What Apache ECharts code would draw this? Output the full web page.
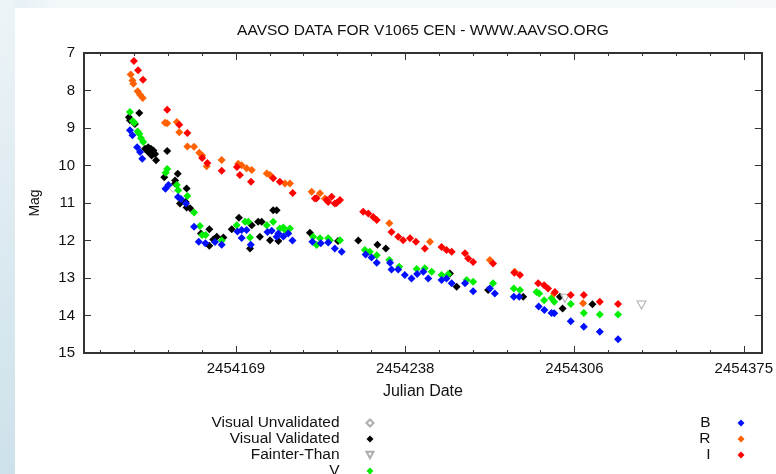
<!DOCTYPE html>
<html>
<head>
<meta charset="utf-8">
<script src="https://cdn.jsdelivr.net/npm/echarts@6/dist/echarts.min.js"></script>
<style>
html,body{margin:0;padding:0;width:776px;height:474px;overflow:hidden;background:#fff;}
#bgtop{position:absolute;left:0;top:0;width:776px;height:8px;background:linear-gradient(to right,#e2eef4,#f3f8fa 60px,#f5f9fb);}
#bgleft{position:absolute;left:0;top:0;width:15px;height:474px;background:linear-gradient(to bottom,#edf4f7,#d9e8ef 60%,#cde1ea);}
#chart{position:absolute;left:0;top:0;width:776px;height:474px;}
</style>
</head>
<body>
<div id="bgtop"></div>
<div id="bgleft"></div>
<div id="chart"></div>
<script>
// ---- axis ranges and tick labels ----
const xMin = 2454107.86;
const xMax = 2454382.8;
const xMajorTicks = [2454169.5, 2454238.17, 2454306.83, 2454375.5];
const xTickLabels = ['2454169', '2454238', '2454306', '2454375'];
const yMin = 7, yMax = 15;

// ---- observations [Julian Date, magnitude] ----
const visualUnvalidated = [
  [2454144.1, 10.61]
];
const visualValidated = [
  [2454130.3, 8.60], [2454126.1, 8.71], [2454126.5, 8.79], [2454128.5, 8.89],
  [2454132.6, 9.55], [2454133.9, 9.51], [2454135.0, 9.55], [2454136.0, 9.60],
  [2454136.7, 9.69], [2454135.3, 9.73], [2454137.1, 9.86], [2454133.9, 9.64],
  [2454141.6, 9.61], [2454145.9, 10.22], [2454140.4, 10.31], [2454144.8, 10.40],
  [2454144.8, 10.48], [2454149.5, 10.61], [2454146.8, 11.01], [2454149.1, 10.97],
  [2454149.5, 11.12], [2454150.9, 11.14], [2454155.3, 11.81], [2454158.7, 11.70],
  [2454160.3, 11.97], [2454161.7, 11.90], [2454164.4, 11.92], [2454158.7, 12.14],
  [2454167.8, 11.70], [2454170.7, 11.39], [2454175.9, 11.59], [2454178.5, 11.50],
  [2454179.9, 11.50], [2454179.2, 11.90], [2454183.3, 11.99], [2454184.6, 11.19],
  [2454186.0, 11.19], [2454186.7, 12.01], [2454175.2, 12.21], [2454199.5, 11.79],
  [2454210.9, 12.01], [2454219.1, 12.00], [2454226.9, 12.11], [2454230.3, 12.21],
  [2454256.3, 12.88], [2454259.0, 13.23], [2454271.8, 13.32], [2454286.0, 13.50],
  [2454300.9, 13.50], [2454302.0, 13.81], [2454314.1, 13.70]
];
const fainterThan = [
  [2454302.9, 13.54], [2454334.0, 13.72]
];
const bandV = [
  [2454126.5, 8.57], [2454127.6, 8.81], [2454128.3, 8.86], [2454129.6, 9.09],
  [2454130.3, 9.15], [2454131.0, 9.27], [2454131.9, 9.37], [2454141.0, 10.19],
  [2454141.6, 10.09], [2454145.5, 10.52], [2454146.1, 10.66], [2454149.8, 10.81],
  [2454152.5, 11.25], [2454154.9, 11.61], [2454155.8, 11.85], [2454157.2, 11.85],
  [2454163.7, 12.00], [2454169.8, 11.59], [2454173.2, 11.50], [2454174.5, 11.50],
  [2454175.2, 11.92], [2454182.0, 11.59], [2454184.6, 11.50], [2454187.3, 11.68],
  [2454188.7, 11.65], [2454189.4, 11.72], [2454191.4, 11.68], [2454200.8, 11.90],
  [2454202.2, 12.12], [2454203.6, 11.94], [2454206.9, 11.94], [2454207.6, 11.99],
  [2454211.7, 11.99], [2454221.8, 12.25], [2454223.8, 12.30], [2454226.6, 12.39],
  [2454231.7, 12.52], [2454235.7, 12.70], [2454242.8, 12.76], [2454246.1, 12.74],
  [2454248.9, 12.83], [2454252.9, 12.92], [2454255.6, 12.90], [2454263.1, 13.05],
  [2454265.7, 13.10], [2454273.8, 13.14], [2454282.2, 13.28], [2454284.7, 13.32],
  [2454291.4, 13.37], [2454292.5, 13.41], [2454294.5, 13.59], [2454297.5, 13.54],
  [2454298.6, 13.63], [2454305.3, 13.69], [2454310.6, 13.93], [2454317.1, 13.97],
  [2454324.5, 13.97]
];
const bandB = [
  [2454126.5, 9.06], [2454127.5, 9.19], [2454129.4, 9.51], [2454130.6, 9.64],
  [2454131.5, 9.82], [2454140.9, 10.62], [2454142.1, 10.52], [2454146.0, 10.84],
  [2454147.2, 10.89], [2454149.2, 11.01], [2454152.5, 11.63], [2454154.4, 12.03],
  [2454157.1, 12.07], [2454161.0, 12.04], [2454163.7, 12.11], [2454170.1, 11.76],
  [2454171.8, 11.93], [2454171.8, 11.72], [2454173.8, 11.72], [2454175.5, 12.11],
  [2454182.3, 11.77], [2454184.0, 11.74], [2454186.0, 11.90], [2454186.7, 11.81],
  [2454188.7, 11.89], [2454190.7, 11.81], [2454192.4, 12.00], [2454200.5, 12.03],
  [2454203.9, 12.07], [2454206.9, 12.05], [2454209.6, 12.21], [2454212.4, 12.30],
  [2454222.1, 12.37], [2454224.5, 12.45], [2454226.6, 12.59], [2454232.0, 12.59],
  [2454232.6, 12.77], [2454235.3, 12.77], [2454238.0, 12.92], [2454240.7, 13.01],
  [2454243.0, 12.89], [2454245.5, 12.83], [2454247.5, 13.01], [2454252.9, 13.05],
  [2454254.9, 13.01], [2454257.0, 13.14], [2454262.4, 13.14], [2454265.7, 13.35],
  [2454272.5, 13.28], [2454274.5, 13.41], [2454282.2, 13.50], [2454284.4, 13.50],
  [2454292.3, 13.76], [2454294.6, 13.85], [2454297.5, 13.93], [2454298.6, 13.94],
  [2454305.3, 14.15], [2454310.6, 14.30], [2454317.1, 14.43], [2454324.5, 14.63]
];
const bandR = [
  [2454126.8, 7.57], [2454127.5, 7.73], [2454127.9, 7.82], [2454129.6, 8.02],
  [2454130.6, 8.11], [2454131.7, 8.20], [2454140.7, 8.86], [2454141.6, 8.87],
  [2454145.5, 8.84], [2454146.5, 9.11], [2454149.8, 9.49], [2454152.5, 9.50],
  [2454154.6, 9.66], [2454155.8, 9.73], [2454157.6, 10.02], [2454163.7, 9.85],
  [2454170.4, 9.95], [2454171.8, 9.99], [2454173.8, 10.07], [2454175.9, 10.12],
  [2454182.0, 10.21], [2454183.3, 10.25], [2454189.4, 10.48], [2454191.4, 10.48],
  [2454200.2, 10.70], [2454203.6, 10.74], [2454205.6, 10.88], [2454231.7, 11.54],
  [2454248.2, 12.03], [2454272.5, 12.52], [2454282.6, 12.83], [2454298.5, 13.41],
  [2454310.3, 13.67]
];
const bandI = [
  [2454128.1, 7.21], [2454129.8, 7.46], [2454131.8, 7.71], [2454141.6, 8.51],
  [2454146.5, 8.91], [2454149.8, 9.13], [2454155.8, 9.80], [2454157.9, 9.93],
  [2454163.7, 10.14], [2454169.9, 10.04], [2454171.1, 10.25], [2454175.6, 10.43],
  [2454184.6, 10.34], [2454187.3, 10.43], [2454192.5, 10.73], [2454201.5, 10.88],
  [2454202.2, 10.87], [2454206.3, 10.92], [2454206.9, 10.97], [2454208.3, 10.83],
  [2454209.6, 11.01], [2454210.3, 11.00], [2454211.7, 10.92], [2454221.1, 11.23],
  [2454223.2, 11.28], [2454225.2, 11.37], [2454226.6, 11.45], [2454232.6, 11.77],
  [2454235.3, 11.90], [2454237.3, 11.99], [2454240.1, 11.94], [2454242.5, 12.03],
  [2454246.1, 12.21], [2454252.9, 12.17], [2454254.9, 12.25], [2454257.0, 12.30],
  [2454262.4, 12.34], [2454263.7, 12.48], [2454265.7, 12.57], [2454273.8, 12.61],
  [2454282.4, 12.86], [2454284.7, 12.92], [2454292.1, 13.14], [2454294.5, 13.19],
  [2454296.1, 13.28], [2454298.9, 13.37], [2454305.3, 13.45], [2454310.6, 13.45],
  [2454317.1, 13.63], [2454324.5, 13.69]
];

// ---- minor tick positions: 5 subdivisions of each major interval ----
const minorStep = (xMajorTicks[1] - xMajorTicks[0]) / 5;
const xMinorTicks = [];
for (let v = xMajorTicks[0] - minorStep * 5; v <= xMax; v += minorStep) {
  if (v >= xMin) xMinorTicks.push(v);
}

const FONT = '"Liberation Sans", Arial, Helvetica, sans-serif';
const AXIS_COLOR = '#333';
const TXT = '#111';
const TRI = 'path://M0,0 L10,0 L5,9 Z';

function fmtX(value) {
  const i = xMajorTicks.findIndex(v => Math.abs(v - value) < 0.05);
  return i >= 0 ? xTickLabels[i] : '';
}

function xAx(pos, major, showLabel) {
  return {
    type: 'value', position: pos, min: xMin, max: xMax,
    name: showLabel ? 'Julian Date' : '',
    nameLocation: 'middle', nameGap: 31,
    nameTextStyle: { fontFamily: FONT, fontSize: 16, color: TXT },
    axisLine: { show: true, onZero: false, lineStyle: { color: AXIS_COLOR, width: 2 } },
    axisTick: {
      show: true, inside: true, length: major ? 7 : 3,
      customValues: major ? xMajorTicks : xMinorTicks,
      lineStyle: { color: AXIS_COLOR, width: 1 }
    },
    axisLabel: {
      show: showLabel, customValues: xMajorTicks, formatter: fmtX,
      margin: 8, fontFamily: FONT, fontSize: 15, color: TXT
    },
    splitLine: { show: false }
  };
}

function yAx(pos, showLabel) {
  return {
    type: 'value', position: pos, min: yMin, max: yMax, interval: 1, inverse: true,
    name: showLabel ? 'Mag' : '',
    nameLocation: 'middle', nameGap: 42, nameRotate: 90,
    nameTextStyle: { fontFamily: FONT, fontSize: 14, color: TXT },
    axisLine: { show: true, lineStyle: { color: AXIS_COLOR, width: 2 } },
    axisTick: { show: true, inside: true, length: 7, lineStyle: { color: AXIS_COLOR, width: 1 } },
    axisLabel: { show: showLabel, margin: 9, fontFamily: FONT, fontSize: 15, color: TXT },
    splitLine: { show: false }
  };
}

function scatter(name, data, color, opts) {
  return Object.assign({
    name: name, type: 'scatter', data: data,
    xAxisIndex: 0, yAxisIndex: 0,
    symbol: 'diamond', symbolSize: [8, 8],
    itemStyle: { color: color, opacity: 1 },
    emphasis: { disabled: true }
  }, opts || {});
}

const legendText = {
  fontFamily: FONT, fontSize: 15.5, color: TXT, lineHeight: 15,
  padding: [0, 22, 0, 0]
};

const chart = echarts.init(document.getElementById('chart'), null, { renderer: 'canvas' });
chart.setOption({
  animation: false,
  backgroundColor: 'transparent',
  title: {
    text: 'AAVSO DATA FOR V1065 CEN - WWW.AAVSO.ORG',
    left: 423, top: 23, textAlign: 'center', padding: 0,
    textStyle: { fontFamily: FONT, fontSize: 15.5, fontWeight: 'normal', color: TXT }
  },
  grid: { left: 84, right: 14, top: 53, bottom: 121, containLabel: false },
  xAxis: [xAx('bottom', true, true), xAx('bottom', false, false), xAx('top', true, false), xAx('top', false, false)],
  yAxis: [yAx('left', true), yAx('right', false)],
  legend: [
    {
      data: [
        { name: 'Visual Unvalidated' },
        { name: 'Visual Validated' },
        { name: 'Fainter-Than' },
        { name: 'V' }
      ],
      orient: 'vertical', align: 'right', right: 401.5, top: 415, height: 90, padding: 0,
      itemWidth: 7, itemHeight: 7, itemGap: 0,
      selectedMode: false, textStyle: legendText
    },
    {
      data: [{ name: 'B' }, { name: 'R' }, { name: 'I' }],
      orient: 'vertical', align: 'right', right: 31.5, top: 415, height: 90, padding: 0,
      itemWidth: 7, itemHeight: 7, itemGap: 0,
      selectedMode: false, textStyle: legendText
    }
  ],
  series: [
    scatter('Visual Unvalidated', visualUnvalidated, '#ffffff', {
      itemStyle: { color: '#ffffff', borderColor: '#999', borderWidth: 1 }
    }),
    scatter('Visual Validated', visualValidated, '#000000'),
    scatter('Fainter-Than', fainterThan, '#ffffff', {
      symbol: TRI, symbolSize: [9, 8],
      itemStyle: { color: '#ffffff', borderColor: '#999', borderWidth: 1 }
    }),
    scatter('V', bandV, '#00ee00'),
    scatter('B', bandB, '#0010ff'),
    scatter('R', bandR, '#ff6000'),
    scatter('I', bandI, '#ff0000')
  ]
});
</script>
</body>
</html>
